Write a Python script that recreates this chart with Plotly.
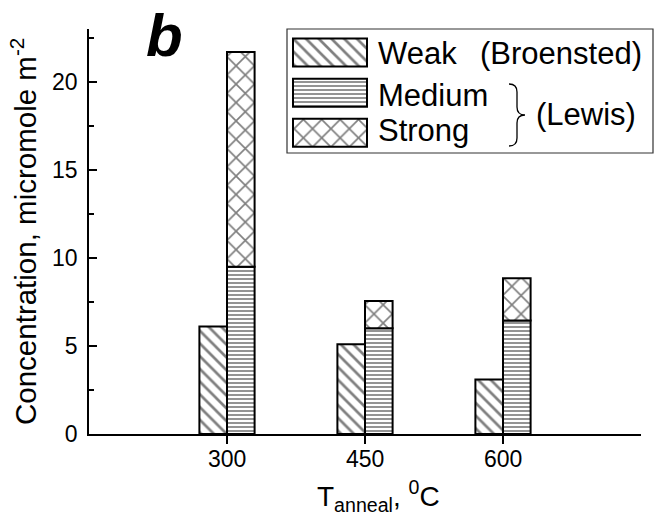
import plotly.graph_objects as go

# ---- data ----
temps = [300, 450, 600]
weak = [6.1, 5.1, 3.1]
medium = [9.5, 6.0, 6.45]
strong = [12.2, 1.55, 2.4]
y_ticks = [0, 5, 10, 15, 20]
x_ticks = [300, 450, 600]
series_names = ["Weak", "Medium", "Strong"]

W, H = 654, 525
FONT = "Liberation Sans, Arial, sans-serif"
BAR_W = 30

pat_weak = dict(shape="\\", size=9, solidity=0.3, fgcolor="black", bgcolor="white")
pat_med = dict(shape="-", size=4, solidity=0.42, fgcolor="black", bgcolor="white")
pat_str = dict(shape="x", size=13, solidity=0.24, fgcolor="black", bgcolor="white")
outline = dict(color="black", width=2)

fig = go.Figure()
fig.add_trace(go.Bar(x=temps, y=weak, offset=-BAR_W, width=BAR_W, name=series_names[0],
                     marker=dict(color="white", line=outline, pattern=pat_weak),
                     showlegend=False))
fig.add_trace(go.Bar(x=temps, y=medium, offset=0, width=BAR_W, name=series_names[1],
                     marker=dict(color="white", line=outline, pattern=pat_med),
                     showlegend=False))
fig.add_trace(go.Bar(x=temps, y=strong, base=medium, offset=0, width=BAR_W, name=series_names[2],
                     marker=dict(color="white", line=outline, pattern=pat_str),
                     showlegend=False))

# ---- legend swatches drawn on a pixel-space overlay axis ----
sw_x0, sw_len, sw_h = 293, 74, 28
sw_rows = [52.5, 92.7, 132.7]
for yc, pat in zip(sw_rows, [pat_weak, pat_med, pat_str]):
    fig.add_trace(go.Bar(x=[sw_len], y=[yc], base=[sw_x0], width=[sw_h], orientation="h",
                         marker=dict(color="white", line=outline, pattern=pat),
                         xaxis="x2", yaxis="y2", showlegend=False, hoverinfo="skip"))

fig.update_layout(
    width=W, height=H,
    margin=dict(l=0, r=0, t=0, b=0, autoexpand=False),
    paper_bgcolor="white", plot_bgcolor="rgba(0,0,0,0)",
    barmode="overlay",
    showlegend=False,
    font=dict(family=FONT, color="black"),
    xaxis=dict(domain=[89 / W, 641 / W], range=[150, 750], tickvals=x_ticks,
               showticklabels=False,
               showline=True, linecolor="black", linewidth=1.5,
               ticks="outside", ticklen=8, tickwidth=1.5, tickcolor="black",
               showgrid=False, zeroline=False, automargin=False,
               anchor="y"),
    yaxis=dict(domain=[1 - 434 / H, 1 - 29 / H], range=[0, 23], tickvals=y_ticks,
               showline=True, linecolor="black", linewidth=1.5,
               ticks="inside", ticklen=8, tickwidth=1.5, tickcolor="black",
               minor=dict(dtick=2.5, tick0=0, ticks="inside", ticklen=5, tickwidth=1.5,
                          tickcolor="black", showgrid=False),
               showgrid=False, zeroline=False, automargin=False,
               tickfont=dict(size=23, family=FONT), ticklabelstandoff=5,
               anchor="x"),
    xaxis2=dict(domain=[0, 1], range=[0, W], visible=False, anchor="y2", fixedrange=True),
    yaxis2=dict(domain=[0, 1], range=[H, 0], visible=False, anchor="x2", fixedrange=True),
)

# x tick labels placed at the data positions of the x axis
for t in x_ticks:
    fig.add_annotation(text=str(t), x=t, y=459, xref="x", yref="y2", showarrow=False,
                       xanchor="center", yanchor="middle",
                       font=dict(family=FONT, size=23, color="black"))

# legend box and brace
fig.add_shape(type="rect", xref="x2", yref="y2", x0=287, y0=29, x1=653, y1=153,
              line=dict(color="#333", width=1.2), fillcolor="rgba(0,0,0,0)", layer="below")
fig.add_shape(type="path", xref="x2", yref="y2",
              path="M 509,84 Q 517,84 517,92 L 517,107 Q 517,115 525,115 "
                   "Q 517,115 517,123 L 517,138 Q 517,146 509,146",
              line=dict(color="black", width=1.3))

def ann(text, x, y, size, xanchor="left", yanchor="middle", angle=0):
    fig.add_annotation(text=text, x=x, y=y, xref="x2", yref="y2", showarrow=False,
                       xanchor=xanchor, yanchor=yanchor, textangle=angle,
                       font=dict(family=FONT, size=size, color="black"))

LEG = 31
ann("Weak", 376, 53.5, LEG)
ann("(Broensted)", 478, 53.5, LEG)
ann("Medium", 376, 95, LEG)
ann("Strong", 376, 130.5, LEG)
ann("(Lewis)", 534, 114, LEG)

ann("<b><i>b</i></b>", 164, 35, 60, xanchor="center")

ann("Concentration, micromole m<sup>-2</sup>", 23, 232, 29.5, xanchor="center", angle=-90)
ann("T<sub>anneal</sub>, <sup>0</sup>C", 378, 496, 28, xanchor="center")

fig.write_html("out.html")
